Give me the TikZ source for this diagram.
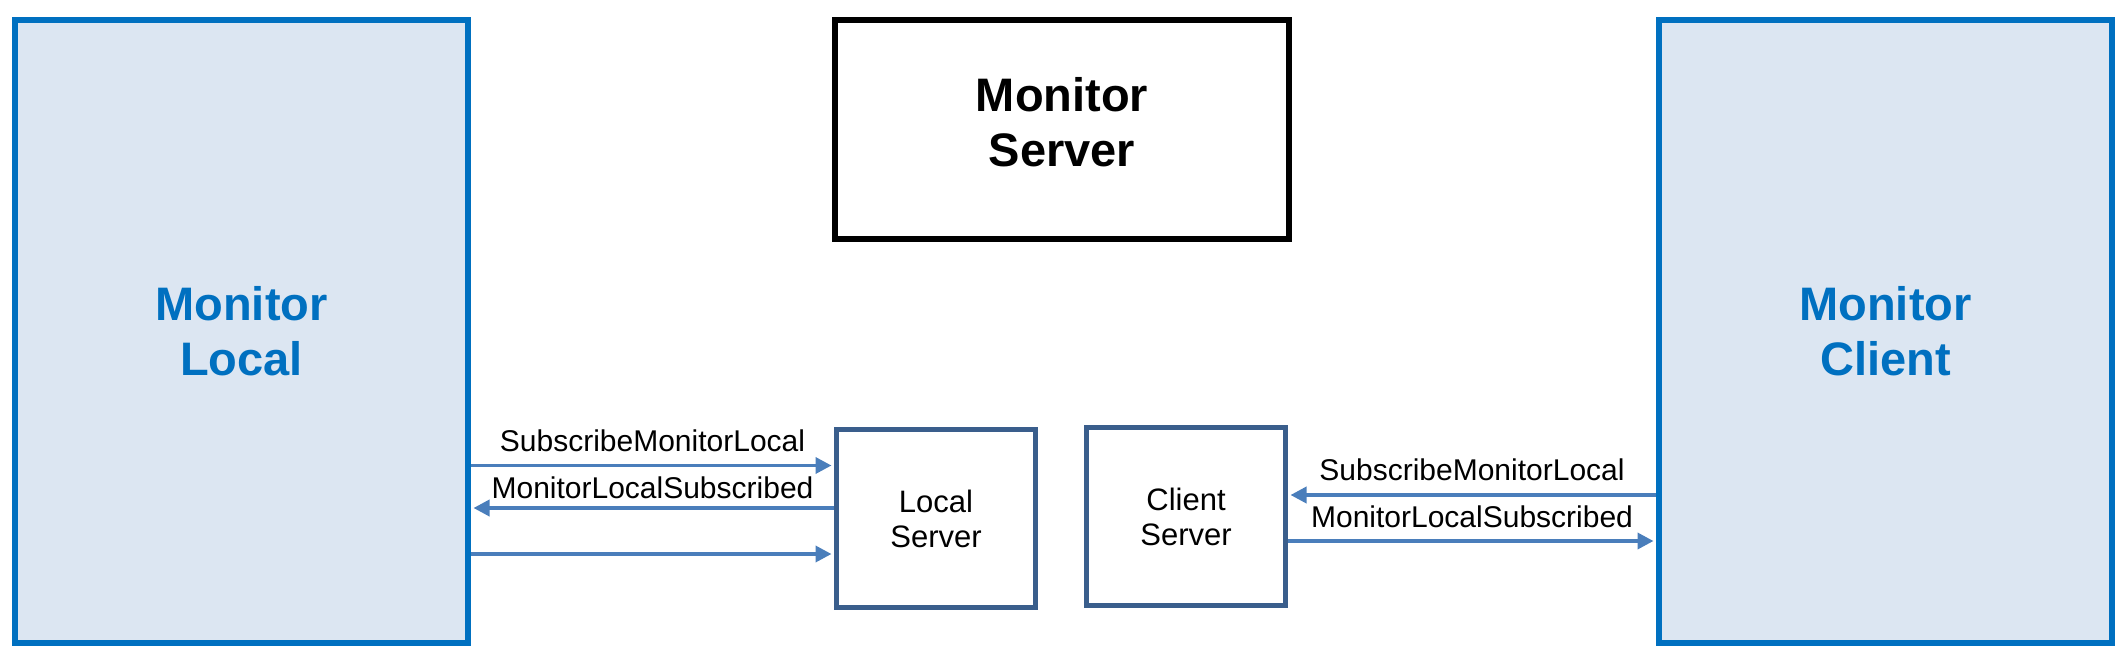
\documentclass[tikz,border=0pt]{standalone}
\usepackage{fontspec}
\setmainfont{Liberation Sans}
\usetikzlibrary{arrows.meta}

\definecolor{MonitorBlue}{HTML}{0070C0}
\definecolor{MonitorFill}{HTML}{DCE6F2}
\definecolor{ServerEdge}{HTML}{3A5E8C}
\definecolor{MessageBlue}{HTML}{4A7EBB}

\begin{document}
\begin{tikzpicture}[x=0.5pt,y=-0.5pt,
		monitorbox/.style={draw=MonitorBlue, fill=MonitorFill, line width=3pt, minimum width=226.5pt, minimum height=311.5pt, inner sep=0pt, align=center, text=MonitorBlue, font=\fontsize{23.5}{27.5}\selectfont\bfseries},
		mainserver/.style={draw=black, line width=3pt, minimum width=227pt, minimum height=109.5pt, inner sep=0pt, align=center, text depth=8pt, font=\fontsize{23.5}{27.5}\selectfont\bfseries},
		smallserver/.style={draw=ServerEdge, line width=2.5pt, minimum width=99.5pt, minimum height=89pt, inner sep=0pt, align=center, font=\fontsize{15.5}{17.5}\selectfont},
		msgarrow/.style={draw=MessageBlue, line width=1.8pt, -{Triangle[length=8pt,width=8pt]}, shorten >=1.25pt},
		msglabel/.style={anchor=base, inner sep=0pt, font=\fontsize{15}{18}\selectfont}]
	\useasboundingbox (0,0) rectangle (2124,658);
	\pgfmathsetmacro{\BoxCenterY}{331.5}
	
	\node[monitorbox] (ML) at (241.5,\BoxCenterY) {Monitor\\Local};
	\node[monitorbox] (MC) at (1885.5,\BoxCenterY) {Monitor\\Client};
	\node[mainserver] (MS) at (1062,129.5) {Monitor\\Server};
	\node[smallserver] (LS) at (936,518.5) {Local\\Server};
	\node[smallserver] (CS) at (1186,516.5) {Client\\Server};
	
	\draw[msgarrow] (ML.east |- 0,465.5) -- node[msglabel, yshift=7pt] {SubscribeMonitorLocal} (LS.west |- 0,465.5);
	\draw[msgarrow] (LS.west |- 0,508) -- node[msglabel, yshift=5pt] {MonitorLocalSubscribed} (ML.east |- 0,508);
	\draw[msgarrow] (ML.east |- 0,554) -- (LS.west |- 0,554);
	
	\draw[msgarrow] (MC.west |- 0,495) -- node[msglabel, yshift=7.5pt] {SubscribeMonitorLocal} (CS.east |- 0,495);
	\draw[msgarrow] (CS.east |- 0,541) -- node[msglabel, yshift=7pt] {MonitorLocalSubscribed} (MC.west |- 0,541);
\end{tikzpicture}
\end{document}
